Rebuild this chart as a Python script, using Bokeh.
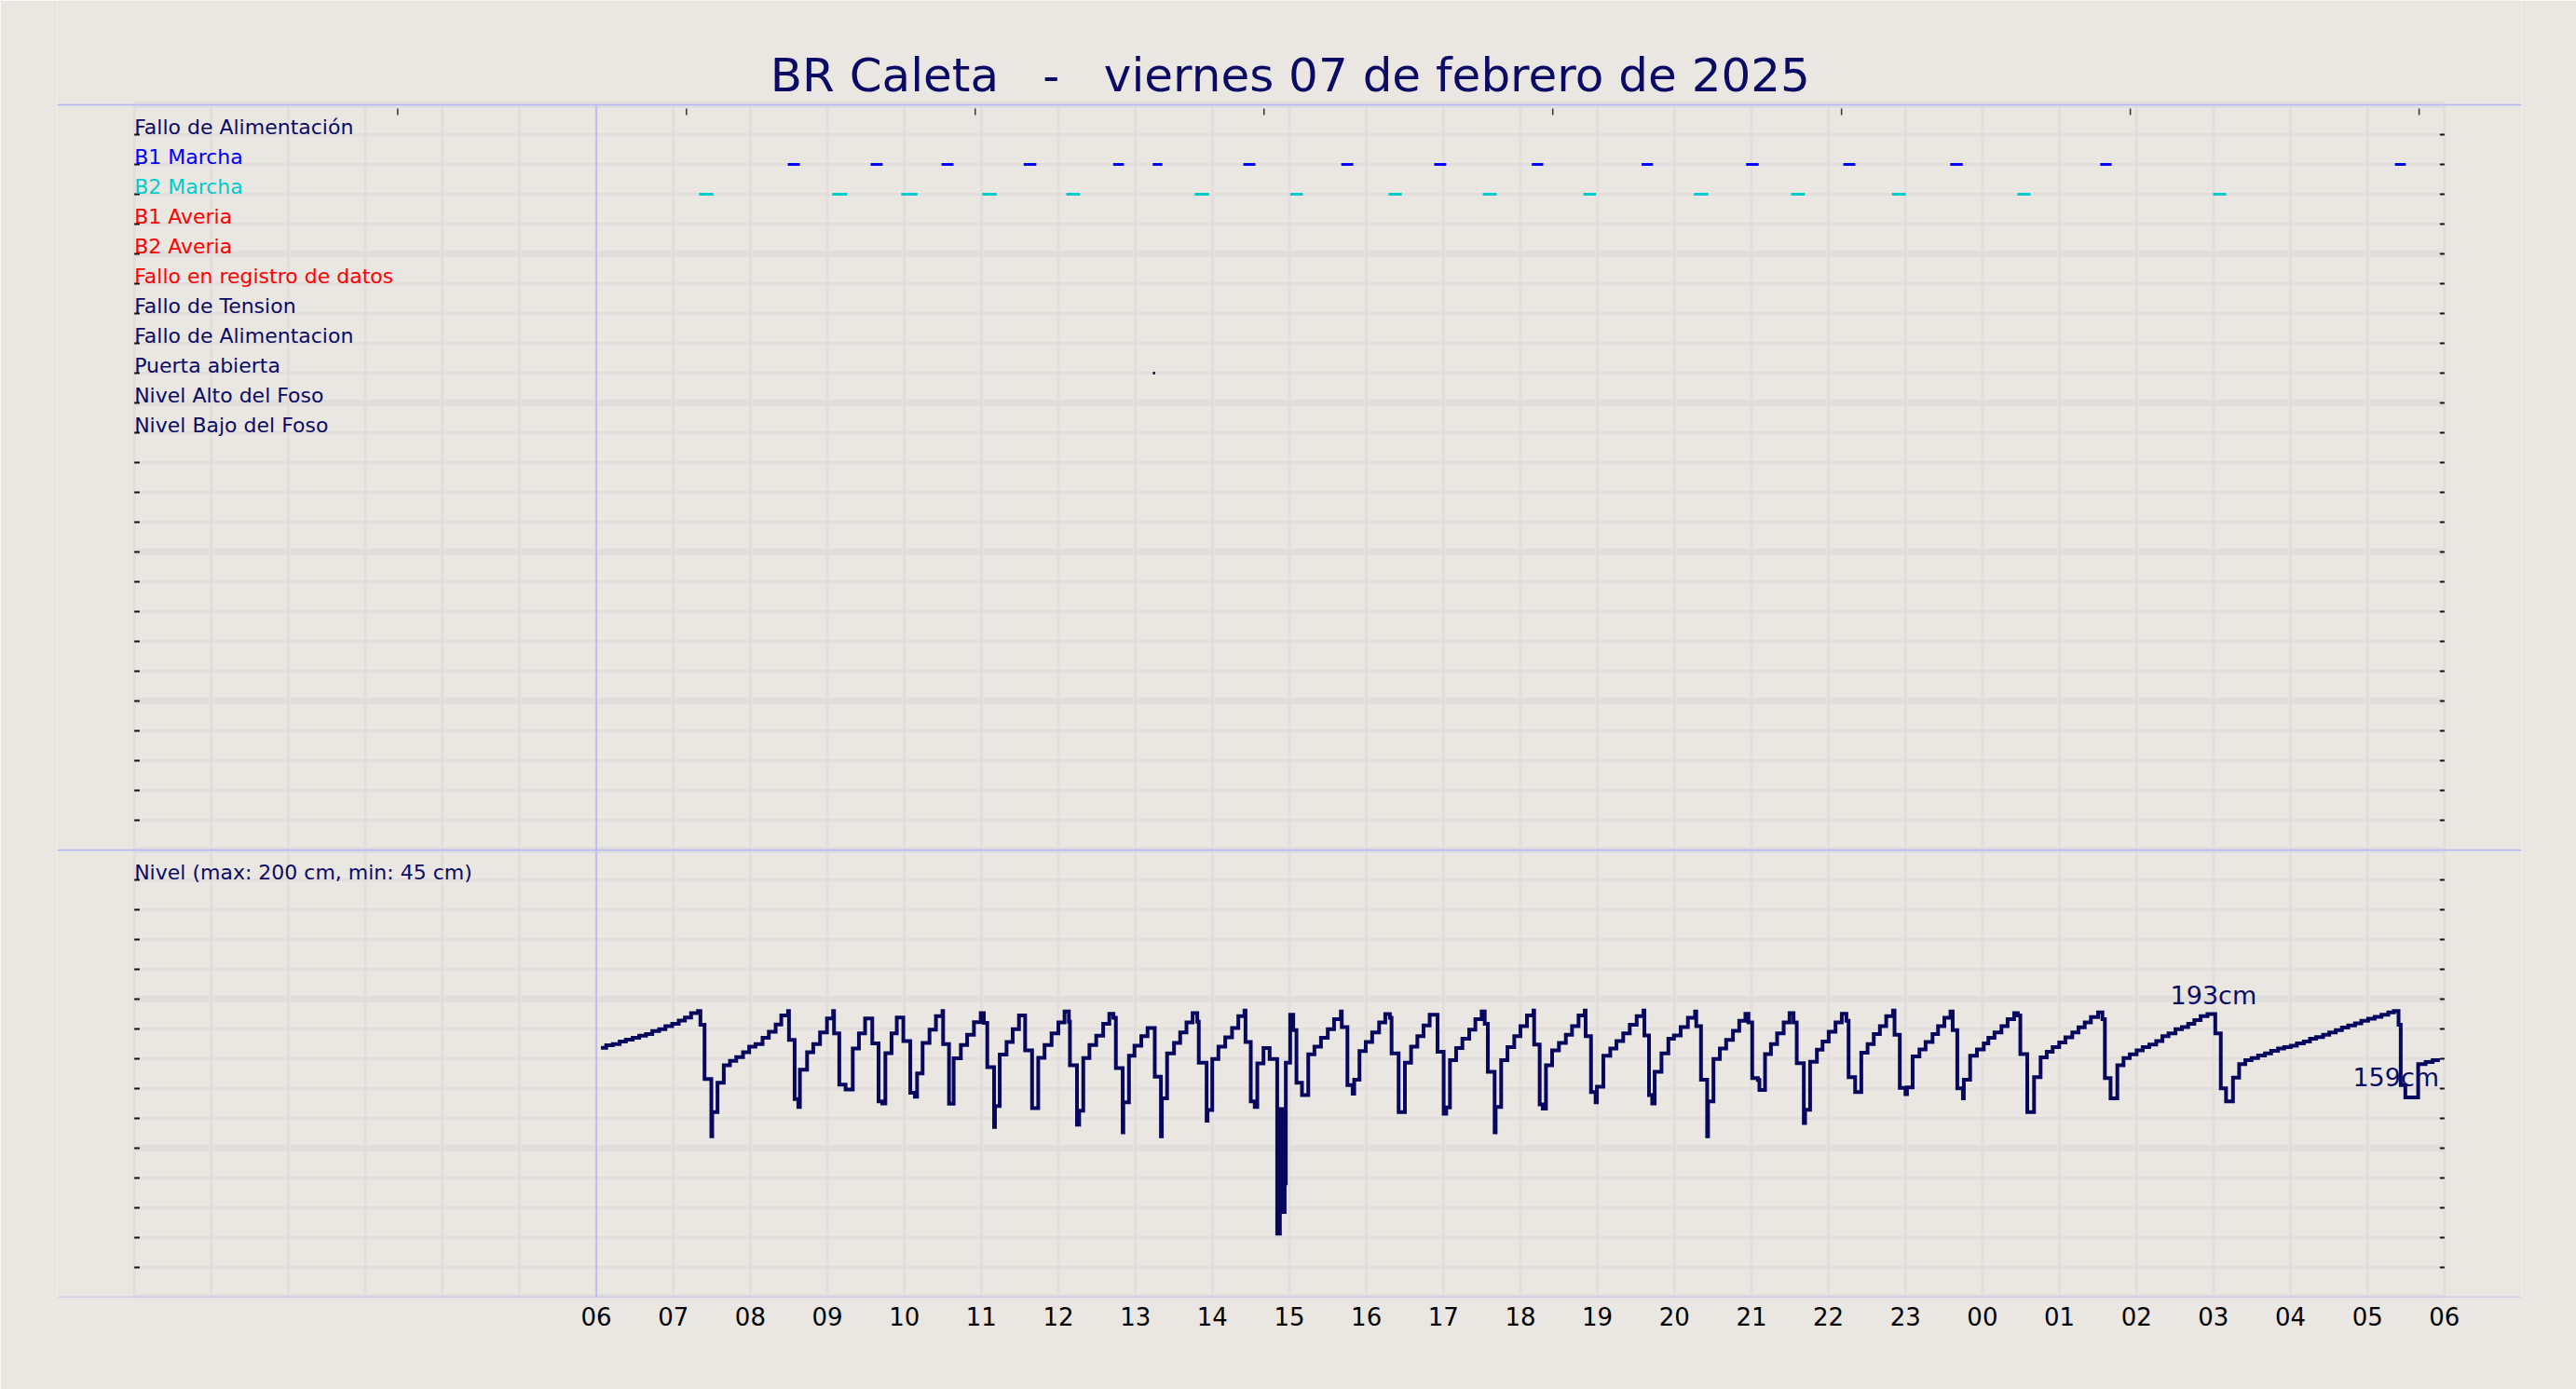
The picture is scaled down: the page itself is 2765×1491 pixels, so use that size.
from bokeh.plotting import figure
from bokeh.models import Range1d, FixedTicker, Span
from bokeh.core.properties import value
from bokeh.embed import file_html
from bokeh.resources import INLINE

# ---------------- data ----------------
title_parts = ["BR Caleta", "-", "viernes 07 de febrero de 2025"]
title_part_hours = [3.742, 5.905, 11.176]
hour_labels = ["06", "07", "08", "09", "10", "11", "12", "13", "14", "15", "16", "17",
               "18", "19", "20", "21", "22", "23", "00", "01", "02", "03", "04", "05", "06"]

event_labels = ["Fallo de Alimentación", "B1 Marcha", "B2 Marcha", "B1 Averia", "B2 Averia",
                "Fallo en registro de datos", "Fallo de Tension", "Fallo de Alimentacion",
                "Puerta abierta", "Nivel Alto del Foso", "Nivel Bajo del Foso"]
event_colors = ["#0b0b66", "#0000ff", "#00cccc", "#ff0000", "#ff0000", "#ff0000",
                "#0b0b66", "#0b0b66", "#0b0b66", "#0b0b66", "#0b0b66"]
event_rows = [39, 38, 37, 36, 35, 34, 33, 32, 31, 30, 29]

# hours after 06:00
b1_on = [2.486, 3.562, 4.482, 5.550, 6.711, 7.225, 8.402, 9.673, 10.881, 12.148,
         13.574, 14.931, 16.193, 17.581, 19.529, 23.356]
b1_off = [2.642, 3.718, 4.638, 5.713, 6.851, 7.350, 8.558, 9.829, 11.037, 12.296,
          13.722, 15.094, 16.349, 17.744, 19.677, 23.497]
b2_on = [1.333, 3.063, 3.959, 5.012, 6.103, 7.771, 9.010, 10.288, 11.512, 12.818,
         14.253, 15.515, 16.825, 18.454, 20.995]
b2_off = [1.520, 3.258, 4.170, 5.199, 6.282, 7.958, 9.174, 10.460, 11.691, 12.982,
          14.440, 15.694, 17.004, 18.625, 21.166]
door_on = [7.228]
door_off = [7.256]

nivel_label = "Nivel (max: 200 cm, min: 45 cm)"

# level samples: minutes after 06:00, level in cm
level_min = [
    3.6, 7.7, 12.8, 18.2, 23.0, 28.3, 33.4, 38.7, 43.6, 48.9, 53.8, 59.1, 64.2, 69.0, 73.8, 79.2,
    81.1, 84.3, 89.6, 90.3, 94.4, 99.3, 104.1, 109.0, 114.3, 119.1, 124.0, 129.5, 134.4, 139.7,
    144.1, 149.4, 150.1, 154.5, 157.4, 158.6, 164.2, 169.0, 174.3, 179.7, 184.5, 185.2, 189.3,
    194.2, 199.8, 204.6, 209.4, 215.0, 219.9, 222.8, 225.2, 230.0, 234.1, 239.2, 244.6, 248.2,
    249.9, 254.2, 259.6, 264.6, 269.7, 270.2, 274.8, 278.4, 284.0, 288.9, 294.2, 299.5, 301.9,
    304.6, 309.9, 310.6, 314.3, 319.6, 324.4, 329.3, 334.1, 339.5, 344.3, 349.2, 354.7, 360.0,
    364.8, 368.2, 369.0, 374.5, 376.2, 379.4, 384.2, 389.5, 394.9, 399.7, 402.9, 404.8, 410.1,
    410.6, 415.0, 419.3, 424.6, 429.5, 435.1, 439.9, 440.6, 444.7, 450.1, 454.9, 459.8, 464.6,
    468.2, 469.4, 475.5, 476.2, 479.9, 484.7, 490.0, 495.3, 500.2, 505.0, 505.8, 509.9, 513.0,
    515.0, 519.8, 524.6, 530.5, 532.6, 534.8, 536.3, 537.2, 540.6, 543.0, 545.5, 549.8, 554.7,
    559.5, 564.6, 569.9, 574.8, 580.1, 580.8, 585.2, 589.3, 590.5, 594.6, 599.5, 604.5, 609.9,
    614.7, 618.3, 619.6, 625.1, 630.0, 634.8, 639.7, 644.5, 649.3, 655.4, 660.2, 662.2, 665.1,
    669.9, 674.8, 680.1, 684.9, 689.8, 692.2, 694.6, 699.9, 700.7, 705.0, 709.9, 715.2, 720.0,
    725.1, 730.2, 730.7, 735.0, 737.4, 739.9, 744.7, 750.0, 755.4, 760.2, 765.3, 770.1, 770.8,
    775.0, 778.6, 779.6, 784.6, 790.0, 794.8, 800.1, 805.2, 810.6, 815.9, 816.6, 820.2, 822.7,
    824.6, 829.9, 835.3, 839.6, 844.9, 850.5, 856.1, 857.0, 860.7, 865.5, 866.2, 870.4, 875.4,
    880.3, 885.6, 890.5, 895.3, 897.7, 900.6, 905.0, 906.2, 910.6, 915.2, 920.0, 925.1, 929.7,
    932.8, 935.3, 940.8, 941.8, 945.7, 951.0, 955.4, 960.2, 965.5, 970.4, 974.0, 975.7, 980.8,
    985.6, 990.5, 995.3, 1000.1, 1005.0, 1010.3, 1011.5, 1015.6, 1020.0, 1021.2, 1025.6, 1030.9,
    1035.7, 1041.1, 1045.4, 1050.3, 1055.1, 1056.8, 1060.4, 1064.8, 1065.5, 1070.4, 1075.7,
    1081.0, 1084.6, 1089.4, 1094.8, 1099.6, 1104.7, 1107.6, 1109.5, 1114.9, 1120.2, 1125.3,
    1130.1, 1134.7, 1139.8, 1144.6, 1150.0, 1154.8, 1159.7, 1164.5, 1170.1, 1173.5, 1175.4,
    1179.8, 1185.1, 1189.9, 1194.8, 1200.1, 1204.9, 1210.0, 1215.4, 1220.2, 1225.0, 1230.4,
    1235.4, 1240.3, 1245.1, 1250.0, 1255.3, 1261.4, 1265.7, 1269.8, 1275.2, 1280.0, 1284.8,
    1289.7, 1294.8, 1300.1, 1304.9, 1310.3, 1315.1, 1320.2, 1325.0, 1330.4, 1335.2, 1340.0,
    1345.4, 1350.2, 1355.3, 1360.1, 1365.0, 1370.3, 1375.2, 1380.5, 1385.6, 1390.9, 1396.2,
    1400.6, 1404.2, 1405.9, 1409.5, 1419.5, 1425.3, 1430.8, 1436.4]
level_cm = [
    167.4, 169.0, 169.9, 171.5, 172.8, 174.0, 175.5, 176.5, 178.6, 179.8, 181.9, 183.4, 185.7, 187.7, 190.6, 192.1,
    182.8, 146.4, 108.0, 124.2, 143.9, 155.7, 158.6, 161.1, 164.3, 168.2, 169.9, 174.0, 178.2, 183.0,
    189.0, 192.1, 172.6, 132.9, 127.7, 152.6, 164.3, 169.9, 177.6, 187.1, 192.1, 177.1, 142.6,
    139.3, 166.8, 177.1, 187.1, 170.3, 131.4, 130.0, 163.8, 177.1, 187.7, 171.9, 137.2, 134.5,
    150.1, 170.7, 179.6, 188.6, 192.1, 169.9, 129.8, 160.3, 169.2, 176.1, 184.6, 190.6, 184.0,
    154.3, 114.2, 128.3, 162.8, 171.3, 179.8, 189.0, 165.7, 126.9, 160.7, 169.2, 177.1, 184.4,
    191.7, 184.8, 155.7, 115.8, 125.2, 160.5, 169.2, 175.5, 183.4, 190.2, 187.5, 153.7, 110.6,
    130.8, 162.0, 168.8, 175.1, 180.7, 148.0, 108.0, 133.5, 163.6, 170.7, 177.6, 184.4, 190.6,
    184.8, 157.4, 118.5, 125.6, 159.9, 168.2, 174.4, 180.7, 188.6, 192.3, 171.3, 131.4, 127.7,
    156.8, 167.2, 159.9, 42.7, 126.2, 57.2, 76.4, 157.4, 189.6, 179.2, 143.9, 135.6, 163.0,
    168.2, 174.0, 179.8, 186.5, 191.7, 181.3, 142.4, 136.6, 146.0, 165.1, 171.3, 177.6, 184.4,
    190.0, 187.5, 163.6, 124.2, 157.4, 168.2, 175.1, 182.3, 189.6, 164.7, 123.1, 127.3, 159.1,
    167.2, 173.4, 179.6, 186.5, 191.7, 183.4, 151.2, 110.6, 127.7, 159.1, 167.8, 175.1, 181.9,
    189.0, 192.3, 169.5, 129.3, 126.6, 155.7, 165.7, 170.7, 176.1, 181.9, 189.0, 192.3, 175.1,
    137.7, 130.8, 141.2, 162.0, 166.8, 171.9, 177.1, 182.8, 188.6, 192.3, 175.7, 135.6, 130.0,
    151.2, 163.6, 173.4, 175.7, 181.3, 187.5, 191.7, 181.9, 146.0, 108.0, 131.4, 159.9, 166.8,
    172.6, 178.8, 185.5, 190.2, 184.4, 147.0, 145.8, 139.1, 163.2, 169.9, 177.1, 184.4, 190.6,
    184.4, 157.0, 116.9, 125.8, 158.0, 166.1, 171.5, 178.2, 184.4, 190.2, 185.5, 147.6, 137.7,
    164.1, 169.9, 176.5, 181.9, 188.6, 192.3, 176.1, 140.4, 136.2, 140.8, 161.6, 166.3,
    171.3, 176.5, 181.9, 187.5, 191.7, 179.2, 140.2, 133.5, 146.0, 162.0, 166.3,
    170.3, 174.0, 177.6, 181.9, 186.5, 190.6, 189.0, 163.2, 124.2, 147.6, 160.9,
    164.7, 167.8, 170.9, 174.4, 177.6, 181.1, 184.4, 187.9, 191.1, 186.5, 147.0,
    133.5, 155.7, 160.5, 163.0, 165.7, 167.8, 169.5, 171.9, 175.1, 177.1, 179.8,
    181.3, 183.4, 185.9, 188.6, 190.0, 177.1, 140.2, 131.4, 147.4, 156.4, 159.1,
    160.5, 162.2, 163.6, 165.3, 166.8, 167.8, 168.8, 170.3, 171.5, 173.4, 174.6,
    176.1, 177.6, 179.2, 180.9, 182.3, 183.8, 185.5, 186.9, 188.2, 189.6, 191.1,
    192.1, 182.8, 142.4, 134.1, 156.4, 157.8, 159.1, 159.1]

level_marks = ["193cm", "159cm"]
level_mark_hours = [21.0, 23.93]
level_mark_cm = [202.8, 147.5]

top_tick_hours = [-2.58, 1.17, 4.92, 8.67, 12.42, 16.17, 19.92, 23.67]

# ---------------- style ----------------
BG = "#eae6e1"
GRID = "#e2dedd"
NAVY = "#07075f"
TXT = "#0b0b66"
BLUEL = "#b4b4f6"
FONT = value("DejaVu Sans")
TEXT_LIFT = 0.25   # rendered text is centred on its y; lift it above the row line

p = figure(width=2765, height=1491, x_range=Range1d(-7, 25), y_range=Range1d(0, 43.5),
           output_backend="svg", toolbar_location=None, y_axis_location=None,
           min_border_left=61, min_border_right=59, min_border_top=0, min_border_bottom=99,
           background_fill_color=BG, border_fill_color=BG, outline_line_color=None)
p.extra_y_ranges = {"level": Range1d(0, 43.5 * 20)}
p.grid.visible = False

# grid
grid_hours = list(range(-6, 25))
thin_rows = [r for r in range(1, 40) if r % 5]
thick_rows = list(range(0, 41, 5))
p.segment(x0=grid_hours, y0=0, x1=grid_hours, y1=40, line_width=3, line_color=GRID)
p.segment(x0=-6, y0=thin_rows, x1=24, y1=thin_rows, line_width=3, line_color=GRID)
p.segment(x0=-6, y0=thick_rows, x1=24, y1=thick_rows, line_width=7, line_color=GRID)

# small inward ticks
tick_rows = [r for r in range(1, 40) if r != 15]
p.segment(x0=-6, y0=tick_rows, x1=-5.93, y1=tick_rows, line_width=2, line_color="#111111")
p.segment(x0=23.94, y0=tick_rows, x1=24, y1=tick_rows, line_width=2, line_color="#111111")
p.segment(x0=top_tick_hours, y0=39.66, x1=top_tick_hours, y1=39.875, line_width=1.5,
          line_color="#333333")

# panel separators
for yy in (0, 15, 40):
    p.add_layout(Span(location=yy, dimension="width", line_color=BLUEL, line_width=1.5))
p.segment(x0=0, y0=0, x1=0, y1=40, line_width=1.5, line_color=BLUEL)

# events
p.segment(x0=b1_on, y0=38, x1=b1_off, y1=38, line_width=3, line_color="#0000ff", line_cap="butt")
p.segment(x0=b2_on, y0=37, x1=b2_off, y1=37, line_width=3, line_color="#00cccc", line_cap="butt")
p.segment(x0=door_on, y0=31, x1=door_off, y1=31, line_width=3, line_color="#111133", line_cap="butt")

# level
p.step(x=[m / 60.0 for m in level_min], y=level_cm, mode="after", y_range_name="level",
       line_width=4, line_color=NAVY, line_join="miter")

# texts
p.text(x=[-6] * len(event_labels), y=[r + TEXT_LIFT for r in event_rows], text=event_labels,
       text_color=event_colors, text_font=FONT, text_font_size="22px", text_align="left",
       text_baseline="alphabetic")
p.text(x=[-6], y=[14 + TEXT_LIFT], text=[nivel_label], text_color=TXT, text_font=FONT,
       text_font_size="22px", text_align="left", text_baseline="alphabetic")
p.text(x=title_part_hours, y=[41.0] * 3, text=title_parts, text_color=TXT, text_font=FONT,
       text_font_size="50px", text_align="center", text_baseline="alphabetic")
p.text(x=level_mark_hours, y=level_mark_cm, text=level_marks, y_range_name="level",
       text_color=TXT, text_font=FONT, text_font_size="27px",
       text_align=["center", "right"], text_baseline="alphabetic")

# x axis
ax = p.xaxis[0]
ax.ticker = FixedTicker(ticks=list(range(25)))
ax.major_label_overrides = {i: lab for i, lab in enumerate(hour_labels)}
ax.axis_line_color = None
ax.major_tick_line_color = None
ax.minor_tick_line_color = None
ax.major_tick_out = 0
ax.major_label_standoff = 10
ax.major_label_text_font = "DejaVu Sans"
ax.major_label_text_font_size = "26px"
ax.major_label_text_color = "#000000"

html = file_html(p, INLINE).replace("<body>", '<body style="background-color:#eae6e1;">', 1)
open("out.html", "w").write(html)
